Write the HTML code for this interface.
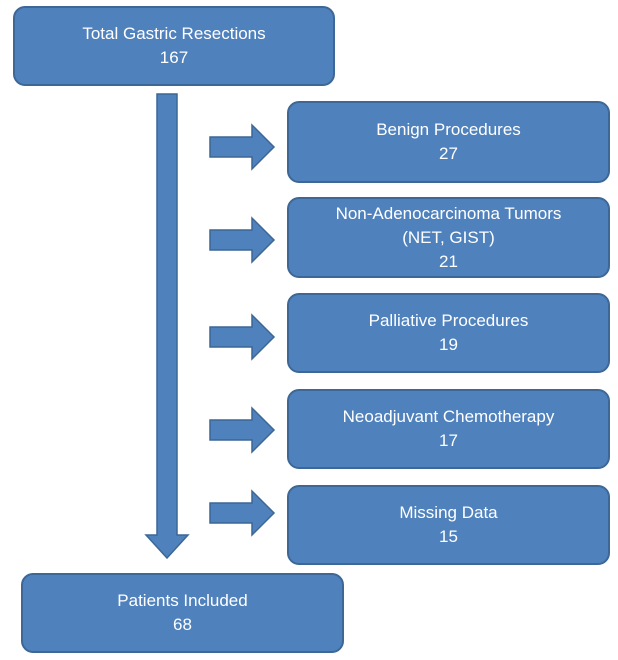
<!DOCTYPE html>
<html><head><style>
body{margin:0;width:618px;height:660px;background:#fff;position:relative;overflow:hidden;font-family:"Liberation Sans",sans-serif}
.b{position:absolute;background:#4f81bd;border:2px solid #3c6796;border-radius:12px;box-sizing:border-box;color:#fff;font-size:17px;line-height:24px;display:flex;align-items:center;justify-content:center;text-align:center}
svg{position:absolute;left:0;top:0}
</style></head><body>
<div class="b" style="left:13px;top:6px;width:322px;height:80px">Total Gastric Resections<br>167</div>
<div class="b" style="left:287px;top:101px;width:323px;height:82px">Benign Procedures<br>27</div>
<div class="b" style="left:287px;top:197px;width:323px;height:81px">Non-Adenocarcinoma Tumors<br>(NET, GIST)<br>21</div>
<div class="b" style="left:287px;top:293px;width:323px;height:80px">Palliative Procedures<br>19</div>
<div class="b" style="left:287px;top:389px;width:323px;height:80px">Neoadjuvant Chemotherapy<br>17</div>
<div class="b" style="left:287px;top:485px;width:323px;height:80px">Missing Data<br>15</div>
<div class="b" style="left:21px;top:573px;width:323px;height:80px">Patients Included<br>68</div>
<svg width="618" height="660">
<g fill="#4f81bd" stroke="#3c6796" stroke-width="1.5">
<polygon points="157,94 177,94 177,535 188,535 167,558 146,535 157,535"/>
<polygon points="210,137 252,137 252,125 274,147 252,169 252,157 210,157"/>
<polygon points="210,230 252,230 252,218 274,240 252,262 252,250 210,250"/>
<polygon points="210,327 252,327 252,315 274,337 252,359 252,347 210,347"/>
<polygon points="210,420 252,420 252,408 274,430 252,452 252,440 210,440"/>
<polygon points="210,503 252,503 252,491 274,513 252,535 252,523 210,523"/>
</g></svg>
</body></html>
